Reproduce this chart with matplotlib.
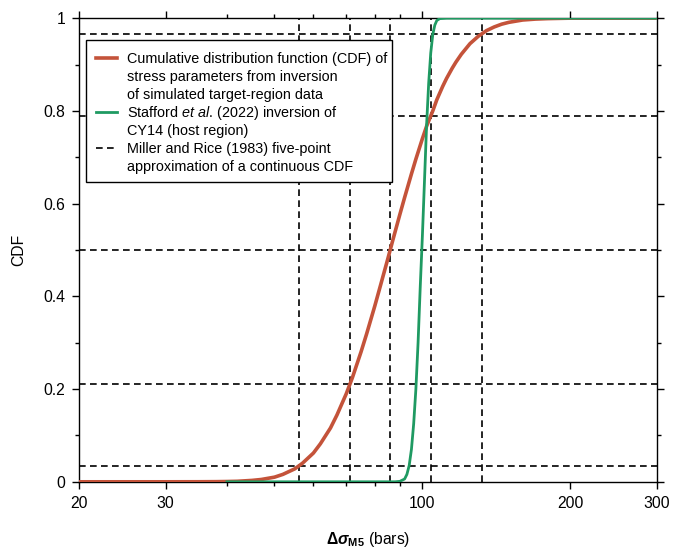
import matplotlib
matplotlib.use('Agg')
import matplotlib.pyplot as plt
from matplotlib.patches import Rectangle
from matplotlib.ticker import FixedLocator, FixedFormatter, NullFormatter

plt.rcParams['font.family'] = ['Liberation Sans', 'DejaVu Sans']
plt.rcParams['mathtext.fontset'] = 'custom'
plt.rcParams['mathtext.rm'] = 'Liberation Sans'
plt.rcParams['mathtext.it'] = 'Liberation Sans:italic'
plt.rcParams['mathtext.bf'] = 'Liberation Sans:bold'
plt.rcParams['mathtext.bfit'] = 'Liberation Sans:italic:bold'

# CDF of stress parameters (target region)
red_x = [20, 30, 35, 38, 40, 42, 45, 47, 50, 52, 55, 57, 60, 62, 65, 67, 70,
         72, 75, 77, 80, 82, 85, 87, 90, 92, 95, 97, 100, 102, 105, 107, 110,
         112, 115, 117, 120, 125, 130, 135, 140, 145, 150, 160, 170, 180, 200,
         250, 300]
red_p = [0.0, 0.0, 0.0001, 0.0003, 0.0006, 0.0011, 0.003, 0.005, 0.010, 0.016,
         0.028, 0.040, 0.062, 0.082, 0.116, 0.144, 0.19, 0.224, 0.28, 0.319,
         0.379, 0.42, 0.48, 0.52, 0.577, 0.613, 0.664, 0.696, 0.74, 0.767,
         0.80, 0.824, 0.853, 0.870, 0.892, 0.905, 0.922, 0.945, 0.961, 0.973,
         0.981, 0.987, 0.991, 0.996, 0.998, 0.999, 1.0, 1.0, 1.0]

# Stafford et al. (2022), CY14 host region
green_x = [40, 88, 90, 92, 93, 94, 95, 96, 97, 98, 99, 100, 101, 102, 103,
           104, 105, 106, 107, 108.5, 112, 150, 300]
green_p = [0.0, 0.0, 0.001, 0.006, 0.016, 0.035, 0.07, 0.125, 0.2, 0.3, 0.42,
           0.53, 0.65, 0.77, 0.86, 0.925, 0.965, 0.985, 0.995, 0.999, 1.0, 1.0, 1.0]

# Miller and Rice (1983) five-point approximation
mr_x = [56.0, 71.2, 86.0, 103.9, 132.0]
mr_p = [0.034, 0.21, 0.5, 0.79, 0.966]

xticks = [20, 30, 100, 200, 300]
xminor = [40, 50, 60, 70, 80, 90]
yticks = [0, 0.2, 0.4, 0.6, 0.8, 1.0]
ylabels = ['0', '0.2', '0.4', '0.6', '0.8', '1']
yminor = [0.1, 0.3, 0.5, 0.7, 0.9]

legend_rows = [('red', 'Cumulative distribution function (CDF) of'),
               (None, 'stress parameters from inversion'),
               (None, 'of simulated target-region data'),
               ('green', r'Stafford $\mathit{et\ al.}\,$(2022) inversion of'),
               (None, 'CY14 (host region)'),
               ('dash', 'Miller and Rice (1983) five-point'),
               (None, 'approximation of a continuous CDF')]

fig = plt.figure(figsize=(6.87, 5.5), dpi=100)
ax = fig.add_axes([0.115, 0.124, 0.841, 0.843])

dash = (0, (4, 2.6))
for p in mr_p:
    ax.axhline(p, color='black', lw=1.2, ls=dash, zorder=1)
for x in mr_x:
    ax.axvline(x, color='black', lw=1.2, ls=dash, zorder=1)

red = '#c4533a'
green = '#1f9a62'
ax.plot(red_x, red_p, color=red, lw=2.6, zorder=3)
ax.plot(green_x, green_p, color=green, lw=2.0, zorder=4)

ax.set_xscale('log')
ax.set_xlim(20, 300)
ax.set_ylim(0, 1)

ax.xaxis.set_major_locator(FixedLocator(xticks))
ax.xaxis.set_major_formatter(FixedFormatter([str(t) for t in xticks]))
ax.xaxis.set_minor_locator(FixedLocator(xminor))
ax.xaxis.set_minor_formatter(NullFormatter())
ax.yaxis.set_major_locator(FixedLocator(yticks))
ax.yaxis.set_major_formatter(FixedFormatter(ylabels))
ax.yaxis.set_minor_locator(FixedLocator(yminor))

ax.tick_params(which='both', direction='out', top=True, right=True,
               labelsize=11.3, width=1.0, color='black')
ax.tick_params(which='major', length=5, pad=5)
ax.tick_params(which='minor', length=3)
for s in ax.spines.values():
    s.set_linewidth(1.0)

ax.set_xlabel(r'$\mathbf{\Delta}\mathbfit{\sigma}_{\mathbf{M5}}$ (bars)', fontsize=11.3, labelpad=14)
ax.set_ylabel('CDF', fontsize=11.3, labelpad=12)

# legend box drawn by hand so each handle sits on the first line of its entry
W, H = 578.0, 464.0
tr = ax.transAxes
ax.add_patch(Rectangle((7 / W, (482 - 182) / H), 306 / W, 142 / H, transform=tr,
                       facecolor='white', edgecolor='black', lw=1.0, zorder=5,
                       clip_on=False))
for i, (kind, txt) in enumerate(legend_rows):
    base = 63 + 18 * i
    yc = (482 - (base - 5.5)) / H
    if kind == 'red':
        ax.plot([17 / W, 38 / W], [yc, yc], color=red, lw=2.6, transform=tr, zorder=6)
    elif kind == 'green':
        ax.plot([17 / W, 38 / W], [yc, yc], color=green, lw=2.0, transform=tr, zorder=6)
    elif kind == 'dash':
        ax.plot([17 / W, 38 / W], [yc, yc], color='black', lw=1.2, ls=(0, (4, 2.6)),
                transform=tr, zorder=6)
    ax.text(48 / W, (482 - base) / H, txt, transform=tr, fontsize=10.4,
            ha='left', va='baseline', zorder=6)

fig.savefig('out.png', dpi=100)
